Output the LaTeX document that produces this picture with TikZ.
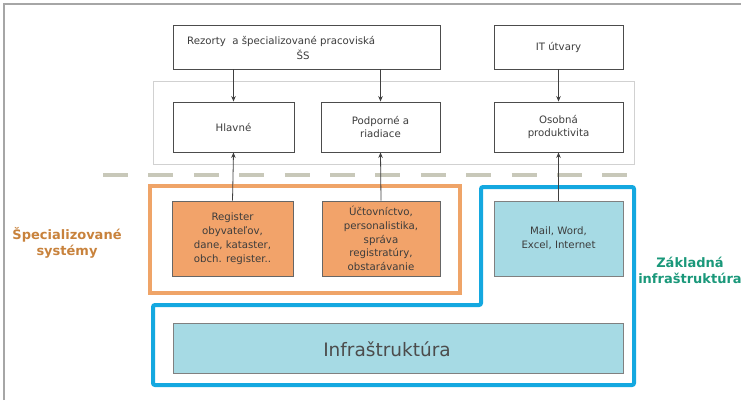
\documentclass[tikz,border=0pt]{standalone}
\usepackage{fontspec}
\setmainfont{DejaVu Sans}
\usetikzlibrary{arrows.meta}
\definecolor{frameorange}{RGB}{239,164,104}
\definecolor{fillorange}{RGB}{242,163,106}
\definecolor{frameblue}{RGB}{20,168,224}
\definecolor{fillblue}{RGB}{166,218,228}
\definecolor{labelorange}{RGB}{200,130,60}
\definecolor{labelteal}{RGB}{26,152,122}
\definecolor{dashgray}{RGB}{200,200,185}
\definecolor{txtgray}{RGB}{60,60,60}
\tikzset{
  whitebox/.style={draw=black!70, line width=0.9pt, fill=white, inner sep=0pt, align=center,
    font=\fontsize{10.2}{13.8}\selectfont, text=txtgray},
  orangebox/.style={whitebox, fill=fillorange, draw=black!60},
  bluebox/.style={whitebox, fill=fillblue, draw=black!50},
  arr/.style={draw=black!75, line width=0.8pt, -{Stealth[length=5.5pt,width=4.5pt]}},
  plain/.style={inner sep=0pt, font=\fontsize{10.2}{13.8}\selectfont, text=txtgray},
  sidelabel/.style={inner sep=0pt, align=center, font=\fontsize{13}{16}\selectfont\bfseries}
}
\begin{document}
\begin{tikzpicture}[x=1pt,y=-1pt]
\useasboundingbox (0,0) rectangle (741,400);
% page border lines
\draw[black!35, line width=1.2pt] (4,400) -- (4,4) -- (741,4);
% light gray frame
\draw[black!18, line width=1pt] (153,81) rectangle (634,164);
% dashed separator
\draw[dashgray, line width=4pt, dash pattern=on 25pt off 20.4pt] (103,175) -- (630,175);
% orange frame
\draw[frameorange, line width=4pt] (150,186) rectangle (460,293);
% blue frame
\draw[frameblue, line width=4pt, rounded corners=2pt]
  (153,305) -- (481,305) -- (481,187) -- (634,187) -- (634,385) -- (153,385) -- cycle;

% top boxes
\node[whitebox, minimum width=267pt, minimum height=44pt] (rez) at (306.5,47) {};
\node[plain, anchor=west] (reztxt) at (187,41) {Rezorty\ \ a špecializované pracoviská};
\node[plain] (reztxt2) at (303,55) {ŠS};
\node[whitebox, minimum width=129pt, minimum height=44pt] (it) at (558.5,47) {IT útvary};

\node[whitebox, minimum width=121pt, minimum height=50pt] (hl) at (233.5,127) {Hlavné};
\node[whitebox, minimum width=119pt, minimum height=50pt] (pod) at (380.5,127) {Podporné a\\riadiace};
\node[whitebox, minimum width=129pt, minimum height=50pt] (os) at (558.5,127) {Osobná\\produktivita};

% system boxes
\node[orangebox, minimum width=121pt, minimum height=75pt] (reg) at (232.5,238.5)
  {Register\\obyvateľov,\\dane, kataster,\\obch. register..};
\node[orangebox, minimum width=118pt, minimum height=75pt] (uct) at (381,238.5)
  {Účtovníctvo,\\personalistika,\\správa\\registratúry,\\obstarávanie};
\node[bluebox, minimum width=129pt, minimum height=75pt] (mail) at (558.5,238.5)
  {Mail, Word,\\Excel, Internet};

\node[bluebox, minimum width=450pt, minimum height=50pt] (infra) at (398,348) {};
\node[inner sep=0pt, font=\fontsize{18.5}{22}\selectfont, text=black!70] (infratxt) at (387,349) {Infraštruktúra};

% side labels
\node[sidelabel, text=labelorange] (spec) at (67,243) {Špecializované\\systémy};
\node[sidelabel, text=labelteal] (zakl) at (690,270) {Základná\\infraštruktúra};

% arrows
\draw[arr] (rez.south -| hl.north) -- (hl.north);
\draw[arr] (rez.south -| pod.north) -- (pod.north);
\draw[arr] (it.south) -- (os.north);
\draw[arr] (reg.north) -- (hl.south);
\draw[arr] (uct.north) -- (pod.south);
\draw[arr] (mail.north) -- (os.south);
\end{tikzpicture}
\end{document}
